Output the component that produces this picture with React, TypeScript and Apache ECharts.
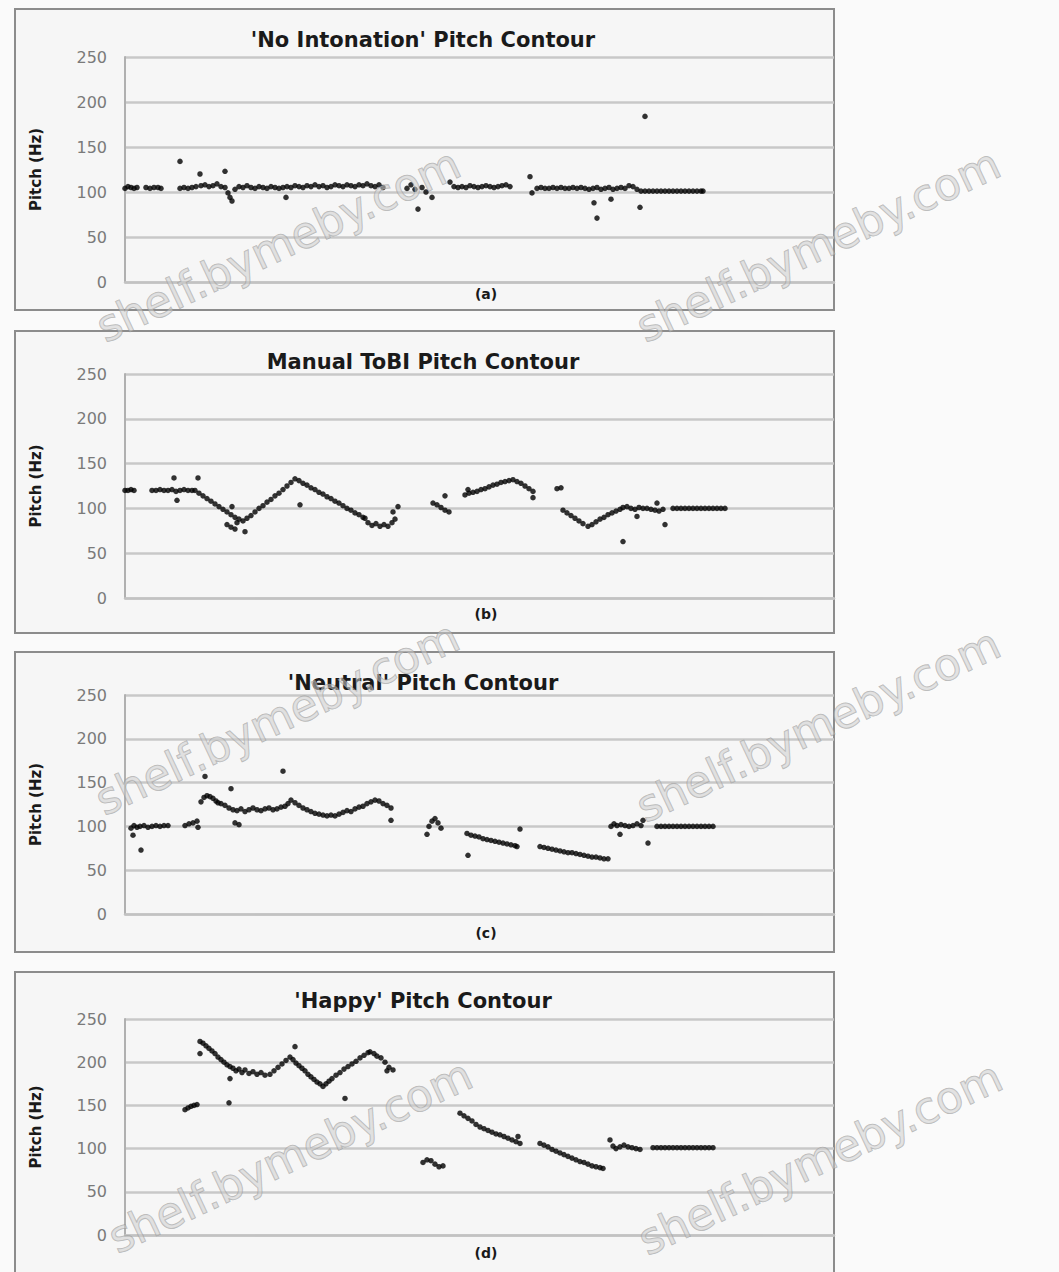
import React, { useEffect, useRef } from "react";
import * as echarts from "echarts";

// Each point: [time position along the contour, pitch in Hz]
const noIntonation: [number, number][] = [
  [0,104],[3,106],[6,105],[9,104],[12,105],
  [21,105],[25,104],[29,105],[33,105],[36,104],
  [55,134],
  [55,104],[59,105],[63,104],[67,105],[71,106],
  [75,120],
  [76,107],[80,108],[84,106],[88,107],[92,109],[96,106],[100,105],
  [100,123],
  [103,99],[105,94],[107,90],
  [110,103],[114,106],[118,105],[122,107],[126,105],[130,104],[134,106],[138,105],[142,104],[146,106],[150,105],[154,104],[158,105],
  [161,94],
  [162,106],[166,105],[170,107],[174,106],[178,105],[182,107],[186,106],[190,108],[194,106],[198,107],[202,105],[206,106],[210,108],[214,107],[218,106],[222,108],[226,107],[230,106],[234,108],[238,107],[242,109],[246,107],[250,106],[254,108],[258,105],
  [282,104],[286,108],[290,103],[293,81],[297,105],[301,100],[307,94],
  [325,111],[329,106],[333,105],[337,106],[341,105],[345,107],[349,106],[353,105],[357,106],[361,107],[365,106],[369,105],[373,106],[377,107],[381,108],[385,106],
  [405,117],[407,99],
  [412,104],[416,105],[420,104],[424,104],[428,105],[432,104],[436,105],[440,104],[444,104],[448,105],[452,104],[456,105],[460,104],[464,103],[468,104],[472,105],[476,103],[480,104],[484,105],[488,103],[492,104],[496,105],[500,104],[504,107],[508,106],
  [469,88],[472,71],[486,92],[515,83],
  [512,103],[516,101],[520,101],[524,101],[528,101],[532,101],[536,101],[540,101],[544,101],[548,101],[552,101],[556,101],[560,101],[564,101],[568,101],[572,101],[576,101],[578,101],
  [520,184],
];

const manualTobi: [number, number][] = [
  [0,120],[3,120],[6,121],[9,120],
  [27,120],[31,120],[35,121],[39,120],[43,120],[47,121],[51,119],[55,120],[59,121],[63,120],[67,120],[70,120],
  [49,134],[52,109],[73,134],
  [74,117],[78,114],[82,111],[86,108],[90,105],[94,102],[98,99],[102,96],[106,93],[110,90],[114,88],[118,86],
  [107,102],[102,82],[106,79],[110,77],[120,74],[112,84],
  [122,89],[126,92],[130,96],[134,100],[138,103],[142,107],[146,110],[150,114],[154,117],[158,121],[162,125],[166,129],[170,133],
  [175,104],
  [174,131],[178,128],[182,126],[186,123],[190,121],[194,118],[198,116],[202,113],[206,111],[210,108],[214,106],[218,103],[222,100],[226,98],[230,95],[234,93],[238,90],[240,89],
  [243,84],[247,81],[251,83],[255,80],[259,82],[263,80],[267,84],[270,88],
  [273,102],[268,96],
  [308,106],[312,104],[316,101],[320,98],[324,96],[320,114],
  [340,115],[344,117],[348,118],[352,119],[356,121],[360,122],[364,124],[368,126],[372,127],[376,129],[380,130],[384,131],[388,132],[392,130],[396,128],[400,125],[404,122],[408,119],
  [343,121],[408,112],
  [432,122],[436,123],
  [438,98],[442,95],[446,92],[450,89],[454,86],[458,83],[463,80],
  [467,82],[471,85],[475,88],[479,90],[483,93],[487,95],[491,97],[495,99],[498,101],
  [498,63],
  [502,102],[506,100],[510,99],[514,101],[518,100],[522,100],[526,99],[530,98],[534,97],[538,99],
  [512,91],[532,106],[540,82],
  [548,100],[552,100],[556,100],[560,100],[564,100],[568,100],[572,100],[576,100],[580,100],[584,100],[588,100],[592,100],[596,100],[600,100],
];

const neutral: [number, number][] = [
  [6,98],[9,101],[12,99],[15,100],[19,101],[23,99],[27,100],[31,101],[35,100],[39,101],[43,101],
  [8,90],[16,73],
  [60,101],[64,103],[68,104],[72,106],[73,99],
  [76,128],[79,133],[82,135],[85,134],[88,132],[91,129],[93,127],
  [80,157],
  [96,126],[100,124],[104,121],[108,119],
  [106,143],[110,104],[114,102],
  [112,118],[116,120],[120,117],[124,119],[128,121],[132,119],[136,118],[140,120],[144,121],[148,119],[152,120],[156,122],[160,123],
  [158,163],
  [163,126],[166,130],[170,127],[174,124],[178,121],[182,119],[186,117],[190,115],[194,114],[198,113],[202,112],[206,113],[210,112],[214,114],[218,116],[222,118],[226,117],[230,120],[234,122],[238,123],[242,126],[246,128],[250,130],[254,129],[258,126],[262,124],[266,121],
  [266,107],
  [302,91],[304,100],[307,106],[310,109],[313,104],[316,98],
  [343,67],
  [342,92],[346,90],[350,89],[354,88],[358,86],[362,85],[366,84],[370,83],[374,82],[378,81],[382,80],[386,79],[390,78],[392,77],
  [395,97],
  [415,77],[419,76],[423,75],[427,74],[431,73],[435,72],[439,71],[443,70],[447,70],[451,69],[455,68],[459,67],[463,66],[467,65],[471,65],[475,64],[479,63],[483,63],
  [486,100],[489,103],[492,101],[496,102],[500,101],[504,100],[508,101],[512,103],[516,101],[518,107],
  [495,91],[523,81],
  [532,100],[536,100],[540,100],[544,100],[548,100],[552,100],[556,100],[560,100],[564,100],[568,100],[572,100],[576,100],[580,100],[584,100],[588,100],
];

const happy: [number, number][] = [
  [60,145],[63,147],[66,149],[69,150],[72,151],
  [104,153],
  [75,224],[78,222],[81,219],[84,216],[87,213],[90,210],[93,206],[96,203],[99,200],[102,197],[105,195],
  [75,210],[105,181],
  [108,193],[111,190],[114,192],[117,188],[120,191],[124,187],[128,189],[132,186],[136,188],[140,185],[145,186],
  [149,190],[153,194],[157,198],[161,202],[165,206],
  [170,218],
  [168,203],[171,199],[174,196],[177,193],[180,190],[183,186],[186,183],[189,180],[192,177],[195,175],[198,172],
  [220,158],
  [201,175],[204,178],[207,181],[211,185],[215,188],[219,192],[223,195],[227,198],[231,201],[235,205],[239,208],[243,211],[245,212],
  [249,210],[252,207],[256,205],[260,200],[264,194],[268,191],[262,190],
  [298,84],[302,87],[306,86],[310,82],[314,79],[318,80],
  [335,141],[339,138],[343,135],[347,132],[351,128],[355,125],[359,123],[363,121],[367,119],[371,117],[375,116],[379,114],[383,112],[387,110],[391,108],[395,106],[393,114],
  [415,106],[419,104],[423,102],[427,99],[431,97],[435,95],[439,93],[443,91],[447,89],[451,87],[455,85],[459,84],[463,82],[467,80],[471,79],[475,78],[478,77],
  [485,110],[488,103],[491,100],[495,102],[499,104],[503,102],[507,101],[511,100],[515,99],
  [528,101],[532,101],[536,101],[540,101],[544,101],[548,101],[552,101],[556,101],[560,101],[564,101],[568,101],[572,101],[576,101],[580,101],[584,101],[588,101],
];

const titles = [
  "'No Intonation' Pitch Contour",
  "Manual ToBI Pitch Contour",
  "'Neutral' Pitch Contour",
  "'Happy' Pitch Contour",
];
const tags = ["(a)", "(b)", "(c)", "(d)"];
const seriesData = [noIntonation, manualTobi, neutral, happy];
const yTicks = { min: 0, max: 250, interval: 50 };
const yAxisTitle = "Pitch (Hz)";
const watermarkText = "shelf.bymeby.com";

// layout (pixels)
const layout = [
  { gridTop: 57, gridH: 225, frameY: 9, frameH: 301, titleY: 40, tagY: 294 },
  { gridTop: 374, gridH: 224, frameY: 331, frameH: 302, titleY: 362, tagY: 614 },
  { gridTop: 695, gridH: 219, frameY: 652, frameH: 300, titleY: 683, tagY: 933 },
  { gridTop: 1019, gridH: 216, frameY: 972, frameH: 310, titleY: 1001, tagY: 1253 },
];
const watermarks = [
  [278, 245], [818, 245], [277, 718], [818, 725], [290, 1156], [820, 1158],
];

export default function App() {
  const ref = useRef<HTMLDivElement>(null);
  useEffect(() => {
    if (!ref.current) return;
    const chart = echarts.init(ref.current, undefined, { renderer: "svg" });
    const font = '"DejaVu Sans", sans-serif';
    const graphics: any[] = [];
    layout.forEach((l, i) => {
      graphics.push({
        type: "rect", z: -10,
        shape: { x: 15, y: l.frameY, width: 819, height: l.frameH },
        style: { fill: "#f6f6f6", stroke: "#8c8c8c", lineWidth: 2 },
      });
      graphics.push({
        type: "text", x: 423, y: l.titleY, z: 5,
        style: { text: titles[i], font: `bold 21px ${font}`, fill: "#1a1a1a", align: "center", verticalAlign: "middle", textAlign: "center", textVerticalAlign: "middle" },
      });
      graphics.push({
        type: "text", x: 486, y: l.tagY, z: 5,
        style: { text: tags[i], font: `bold 14px ${font}`, fill: "#1a1a1a", align: "center", verticalAlign: "middle", textAlign: "center", textVerticalAlign: "middle" },
      });
      graphics.push({
        type: "text", x: 36, y: l.gridTop + l.gridH / 2, rotation: Math.PI / 2, z: 5,
        style: { text: yAxisTitle, font: `bold 15px ${font}`, fill: "#1a1a1a", align: "center", verticalAlign: "middle", textAlign: "center", textVerticalAlign: "middle" },
      });
    });
    watermarks.forEach(([x, y]) => {
      graphics.push({
        type: "text", x, y, rotation: 0.44, z: 100,
        style: { text: watermarkText, font: `44px ${font}`, fill: "rgba(205,205,205,0.55)", stroke: "rgba(140,140,140,0.6)", lineWidth: 1, align: "center", verticalAlign: "middle", textAlign: "center", textVerticalAlign: "middle" },
      });
    });

    const option: any = {
      animation: false,
      backgroundColor: "#fafafa",
      grid: layout.map((l) => ({ left: 125, width: 709, top: l.gridTop, height: l.gridH })),
      xAxis: layout.map((_, i) => ({
        gridIndex: i, type: "value", min: 0, max: 709,
        axisLine: { show: true, lineStyle: { color: "#c2c2c2", width: 2.5 } },
        axisTick: { show: false }, axisLabel: { show: false }, splitLine: { show: false },
      })),
      yAxis: layout.map((_, i) => ({
        gridIndex: i, type: "value", min: yTicks.min, max: yTicks.max, interval: yTicks.interval,
        axisLine: { show: true, lineStyle: { color: "#b0b0b0", width: 2 } },
        axisTick: { show: false },
        axisLabel: { color: "#7a7a7a", fontSize: 16, fontFamily: "DejaVu Sans", margin: 18 },
        splitLine: { show: true, lineStyle: { color: "#c8c8c8", width: 2.5 } },
      })),
      series: seriesData.map((d, i) => ({
        type: "scatter", xAxisIndex: i, yAxisIndex: i, data: d,
        symbol: "circle", symbolSize: 5.5,
        itemStyle: { color: "#000" },
      })),
      graphic: graphics,
    };
    chart.setOption(option);
    return () => chart.dispose();
  }, []);
  return <div ref={ref} style={{ position: "fixed", left: 0, top: 0, width: 1059, height: 1272 }} />;
}
